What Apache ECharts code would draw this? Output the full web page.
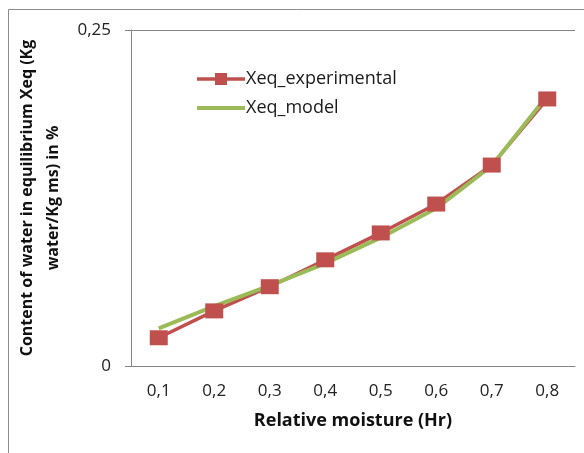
<!DOCTYPE html>
<html>
<head>
<meta charset="utf-8">
<script src="https://cdn.jsdelivr.net/npm/echarts@6/dist/echarts.min.js"></script>
<style>
html,body{margin:0;padding:0;background:#fff;}
#c{width:584px;height:453px;}
</style>
</head>
<body>
<div id="c"></div>
<script>
var categories = ['0,1','0,2','0,3','0,4','0,5','0,6','0,7','0,8'];
var experimental = [0.021, 0.041, 0.059, 0.079, 0.099, 0.1205, 0.1495, 0.1987];
var model = [0.028, 0.0446, 0.0598, 0.0764, 0.0955, 0.1173, 0.149, 0.2011];
var yTicks = [0, 0.25];

var chart = echarts.init(document.getElementById('c'), null, {renderer:'canvas'});
var font = 'Open Sans';
chart.setOption({
  animation: false,
  backgroundColor: '#fff',
  graphic: [{
    type: 'rect', silent: true,
    shape: {x: 8.5, y: 9.5, width: 600, height: 460},
    style: {fill: 'none', stroke: '#8c8c8c', lineWidth: 1}
  }],
  grid: {left: 131, right: 9, top: 30, bottom: 87},
  legend: {
    orient: 'vertical', left: 190, top: 65,
    itemWidth: 48, itemHeight: 15, itemGap: 11,
    textStyle: {fontFamily: font, fontSize: 18, color: '#1a1a1a', padding: [0,0,0,-4]},
    data: [
      {name: 'Xeq_experimental', lineStyle: {width: 3.5}},
      {name: 'Xeq_model', itemStyle: {opacity: 0}, lineStyle: {width: 4}}
    ]
  },
  xAxis: {
    type: 'category', data: categories, boundaryGap: true,
    name: 'Relative moisture (Hr)', nameLocation: 'middle', nameGap: 46,
    nameTextStyle: {fontFamily: font, fontSize: 18, fontWeight: 'bold', color: '#111'},
    axisLine: {lineStyle: {color: '#868686', width: 1}},
    axisTick: {show: false},
    axisLabel: {fontFamily: font, fontSize: 17, color: '#222', margin: 17}
  },
  yAxis: {
    type: 'value', min: yTicks[0], max: yTicks[1], interval: 0.25,
    name: 'Content of water in equilibrium Xeq (Kg\nwater/Kg ms) in %',
    nameLocation: 'middle', nameGap: 64, nameRotate: 90,
    nameTextStyle: {fontFamily: font, fontSize: 16, fontWeight: 'bold', color: '#111', lineHeight: 26, align: 'center'},
    axisLine: {show: true, lineStyle: {color: '#868686', width: 1}},
    axisTick: {show: true, length: 6, lineStyle: {color: '#868686'}},
    splitLine: {show: true, lineStyle: {color: '#868686', width: 1}},
    axisLabel: {fontFamily: font, fontSize: 17, color: '#222', margin: 20,
      formatter: function(v){ return String(v).replace('.', ','); }}
  },
  series: [{
    name: 'Xeq_experimental', type: 'line', data: experimental,
    symbol: 'rect', symbolSize: [18, 15],
    itemStyle: {color: '#C0504D'},
    lineStyle: {color: '#C0504D', width: 3.5}
  }, {
    name: 'Xeq_model', type: 'line', data: model,
    symbol: 'none', showSymbol: false,
    itemStyle: {color: '#9BBB59'},
    lineStyle: {color: '#9BBB59', width: 4}
  }]
});
</script>
</body>
</html>
